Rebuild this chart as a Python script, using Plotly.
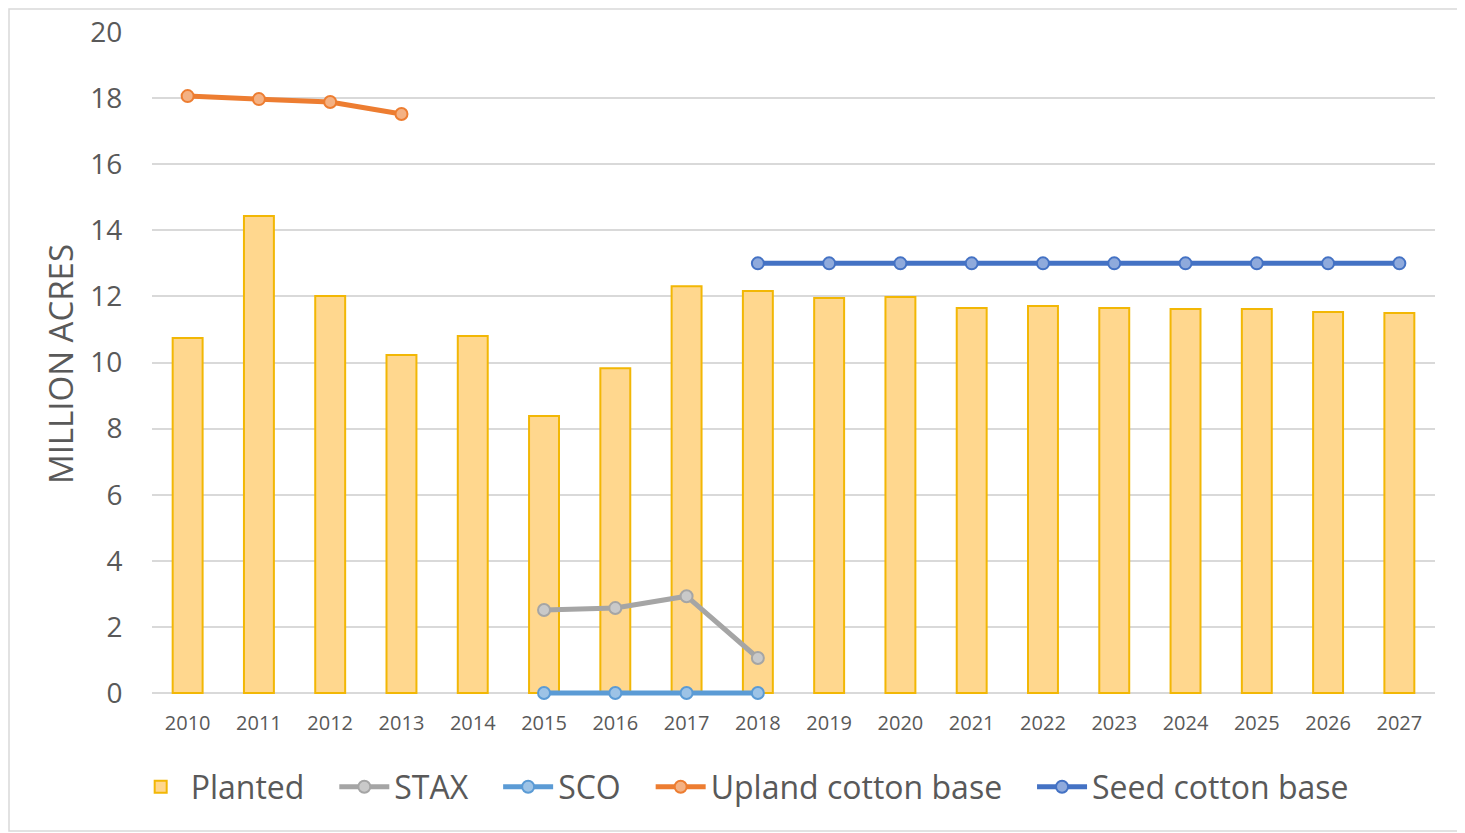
import plotly.graph_objects as go

years = [str(y) for y in range(2010, 2028)]
planted = [10.74, 14.43, 12.01, 10.23, 10.80, 8.38, 9.83, 12.31, 12.16, 11.95, 11.98, 11.65, 11.71, 11.65, 11.62, 11.62, 11.53, 11.50]
stax = [None]*5 + [2.51, 2.57, 2.93, 1.06] + [None]*9
sco = [None]*5 + [0, 0, 0, 0] + [None]*9
upland = [18.06, 17.97, 17.88, 17.52] + [None]*14
seed = [None]*8 + [13.0]*10
yticks = list(range(0, 21, 2))

font = "Open Sans"
gray = "#595959"
gap = "\u00a0" * 3

fig = go.Figure()
fig.add_trace(go.Bar(x=years, y=planted, name="Planted" + gap,
                     marker=dict(color="#FFD78E", line=dict(color="#F2B705", width=2))))

def line(name, y, lc, mc):
    fig.add_trace(go.Scatter(x=years, y=y, name=name, mode="lines+markers",
                             line=dict(color=lc, width=5),
                             marker=dict(size=12, color=mc, line=dict(color=lc, width=2)),
                             connectgaps=False, cliponaxis=False))

line("STAX" + gap, stax, "#A5A5A5", "#C9C9C9")
line("SCO" + gap, sco, "#5B9BD5", "#9DC3E6")
line("Upland cotton base" + gap, upland, "#ED7D31", "#F4B183")
line("Seed cotton base", seed, "#4472C4", "#8FAADC")

W, H = 1457, 825
L, R, T, B = 144, 30, 24, 137
pw, ph = W - L - R, H - T - B

fig.update_layout(
    width=W, height=H,
    margin=dict(l=L, r=R, t=T, b=B, autoexpand=False),
    paper_bgcolor="white", plot_bgcolor="white",
    bargap=0.58,
    font=dict(family=font, color=gray),
    showlegend=True,
    legend=dict(orientation="h", x=0.46, xanchor="center", y=-0.137, yanchor="middle",
                font=dict(size=32, color=gray), itemwidth=50, traceorder="normal"),
    xaxis=dict(type="category", range=[-0.5, 17.5], tickfont=dict(size=20, color=gray), showgrid=False,
               showline=False, automargin=False,
               ticks="outside", ticklen=9, tickcolor="rgba(0,0,0,0)"),
    yaxis=dict(range=[-0.09, 20], tickvals=yticks, tickfont=dict(size=28, color=gray),
               gridcolor="#D9D9D9", gridwidth=1.5, zeroline=False, ticks="outside",
               ticklen=23, tickcolor="rgba(0,0,0,0)", automargin=False,
               title=dict(text="MILLION ACRES", font=dict(size=33, color=gray), standoff=6)),
    shapes=[dict(type="rect", xref="paper", yref="paper",
                 x0=-(L - 1) / pw, x1=1 + (R - 2) / pw, y0=-(B - 2) / ph, y1=1 + (T - 1) / ph,
                 line=dict(color="#D9D9D9", width=1.5))],
)

fig.write_html("out.html")
